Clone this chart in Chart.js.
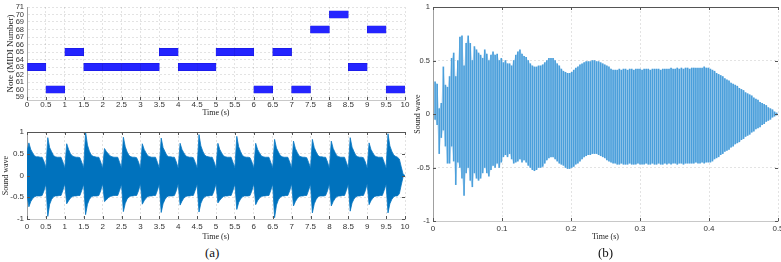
<!DOCTYPE html>
<html>
<head>
<meta charset="utf-8">
<script src="https://cdn.jsdelivr.net/npm/chart.js@4.4.1/dist/chart.umd.min.js"></script>
<style>
  body { margin: 0; background: #fff; width: 781px; height: 262px; overflow: hidden; position: relative; }
  canvas { position: absolute; }
  .tag { position: absolute; font-family: "Liberation Serif", serif; font-size: 13px; line-height: 14px; color: #111; }
</style>
</head>
<body>
<canvas id="roll" width="415" height="120" style="left:0;top:0"></canvas>
<canvas id="wave" width="415" height="125" style="left:0;top:120px"></canvas>
<canvas id="zoom" width="368" height="245" style="left:413px;top:0"></canvas>
<div class="tag" style="left:205px;top:246px">(a)</div>
<div class="tag" style="left:598px;top:246px">(b)</div>
<script>
// piano roll (a, top)
const noteOnsets = [0, 0.5, 1, 1.5, 2, 2.5, 3, 3.5, 4, 4.5, 5, 5.5, 6, 6.5, 7, 7.5, 8, 8.5, 9, 9.5];
const noteEnds = [0.5, 1, 1.5, 2, 2.5, 3, 3.5, 4, 4.5, 5, 5.5, 6, 6.5, 7, 7.5, 8, 8.5, 9, 9.5, 10];
const noteMidi = [63, 60, 65, 63, 63, 63, 63, 65, 63, 63, 65, 65, 60, 65, 60, 68, 70, 63, 68, 60];
const midiTicks = [59, 60, 61, 62, 63, 64, 65, 66, 67, 68, 69, 70, 71];
const timeTicks = [0, 0.5, 1, 1.5, 2, 2.5, 3, 3.5, 4, 4.5, 5, 5.5, 6, 6.5, 7, 7.5, 8, 8.5, 9, 9.5, 10];

// full melody waveform envelope (a, bottom), one sample every 0.05 s
const waveStep = 0.05;
const waveHi = [
  0.55, 0.75, 0.6, 0.52, 0.45, 0.43, 0.43, 0.42, 0.42, 0.32,
  0.18, 0.87, 0.64, 0.55, 0.46, 0.43, 0.42, 0.42, 0.42, 0.31,
  0.17, 0.73, 0.6, 0.5, 0.45, 0.43, 0.42, 0.42, 0.41, 0.3,
  0.18, 1.0, 0.7, 0.56, 0.47, 0.44, 0.43, 0.42, 0.42, 0.31,
  0.17, 0.62, 0.55, 0.5, 0.45, 0.43, 0.42, 0.42, 0.42, 0.3,
  0.18, 0.88, 0.66, 0.54, 0.46, 0.43, 0.42, 0.42, 0.41, 0.31,
  0.17, 0.73, 0.6, 0.52, 0.45, 0.43, 0.42, 0.42, 0.42, 0.3,
  0.18, 0.86, 0.64, 0.55, 0.46, 0.43, 0.43, 0.42, 0.42, 0.31,
  0.17, 0.74, 0.6, 0.52, 0.45, 0.43, 0.42, 0.42, 0.41, 0.3,
  0.18, 0.94, 0.68, 0.56, 0.47, 0.44, 0.43, 0.42, 0.42, 0.31,
  0.17, 0.74, 0.6, 0.52, 0.45, 0.43, 0.42, 0.42, 0.42, 0.3,
  0.18, 0.9, 0.66, 0.55, 0.46, 0.43, 0.42, 0.42, 0.41, 0.31,
  0.17, 0.74, 0.6, 0.52, 0.45, 0.43, 0.42, 0.42, 0.42, 0.3,
  0.18, 0.83, 0.63, 0.54, 0.46, 0.43, 0.42, 0.42, 0.42, 0.31,
  0.17, 0.79, 0.62, 0.53, 0.45, 0.43, 0.42, 0.42, 0.41, 0.3,
  0.18, 0.83, 0.64, 0.54, 0.46, 0.43, 0.43, 0.42, 0.42, 0.31,
  0.17, 0.79, 0.62, 0.53, 0.45, 0.43, 0.42, 0.42, 0.42, 0.3,
  0.18, 0.87, 0.65, 0.55, 0.46, 0.43, 0.42, 0.42, 0.41, 0.31,
  0.17, 0.75, 0.6, 0.52, 0.45, 0.43, 0.42, 0.42, 0.42, 0.3,
  0.18, 0.96, 0.68, 0.56, 0.47, 0.44, 0.42, 0.38, 0.2, 0.03,
  0
];
const waveLo = [
  -0.45, -0.72, -0.6, -0.53, -0.49, -0.47, -0.47, -0.47, -0.46, -0.35,
  -0.2, -0.94, -0.66, -0.55, -0.49, -0.47, -0.47, -0.46, -0.46, -0.34,
  -0.19, -0.65, -0.58, -0.52, -0.48, -0.47, -0.47, -0.46, -0.46, -0.34,
  -0.2, -0.9, -0.66, -0.55, -0.49, -0.47, -0.47, -0.47, -0.46, -0.35,
  -0.19, -0.6, -0.56, -0.51, -0.48, -0.47, -0.46, -0.46, -0.46, -0.34,
  -0.2, -0.83, -0.64, -0.54, -0.49, -0.47, -0.47, -0.46, -0.46, -0.35,
  -0.19, -0.66, -0.58, -0.52, -0.48, -0.47, -0.47, -0.46, -0.46, -0.34,
  -0.2, -0.85, -0.65, -0.55, -0.49, -0.47, -0.47, -0.47, -0.46, -0.35,
  -0.19, -0.68, -0.59, -0.52, -0.48, -0.47, -0.47, -0.46, -0.46, -0.34,
  -0.2, -0.84, -0.64, -0.54, -0.49, -0.47, -0.47, -0.46, -0.46, -0.35,
  -0.19, -0.63, -0.57, -0.52, -0.48, -0.47, -0.47, -0.46, -0.46, -0.34,
  -0.2, -0.78, -0.62, -0.54, -0.49, -0.47, -0.47, -0.47, -0.46, -0.35,
  -0.19, -0.67, -0.58, -0.52, -0.48, -0.47, -0.47, -0.46, -0.46, -0.34,
  -0.2, -0.97, -0.68, -0.56, -0.5, -0.47, -0.47, -0.46, -0.46, -0.35,
  -0.19, -0.7, -0.6, -0.53, -0.48, -0.47, -0.47, -0.46, -0.46, -0.34,
  -0.2, -0.86, -0.65, -0.55, -0.49, -0.47, -0.47, -0.47, -0.46, -0.35,
  -0.19, -0.7, -0.6, -0.53, -0.48, -0.47, -0.47, -0.46, -0.46, -0.34,
  -0.2, -0.82, -0.63, -0.54, -0.49, -0.47, -0.47, -0.46, -0.46, -0.35,
  -0.19, -0.67, -0.58, -0.52, -0.48, -0.47, -0.47, -0.46, -0.46, -0.34,
  -0.2, -0.86, -0.65, -0.55, -0.49, -0.47, -0.47, -0.42, -0.22, -0.03,
  0
];
const ampTicks = [-1, -0.5, 0, 0.5, 1];

// single note (b), one cycle peak every 0.003 s
const cycleStep = 0.003;
const cycleHi = [
  0.3, 0.28, 0.05, 0.1, 0.44, 0.27, 0.25, 0.35, 0.52, 0.57,
  0.35, 0.5, 0.72, 0.73, 0.45, 0.66, 0.73, 0.66, 0.5, 0.63,
  0.6, 0.57, 0.55, 0.52, 0.6, 0.56, 0.5, 0.55, 0.58, 0.55,
  0.56, 0.5, 0.52, 0.48, 0.5, 0.47, 0.47, 0.45, 0.5, 0.55,
  0.58, 0.6, 0.56, 0.54, 0.53, 0.5, 0.47, 0.45, 0.44, 0.44,
  0.45, 0.45, 0.46, 0.48, 0.5, 0.52, 0.52, 0.52, 0.5, 0.47,
  0.45, 0.42, 0.4, 0.39, 0.38, 0.38, 0.39, 0.41, 0.43, 0.44,
  0.46, 0.47, 0.48, 0.49, 0.49, 0.49, 0.5, 0.5, 0.49, 0.49,
  0.48, 0.47, 0.46, 0.45, 0.44, 0.42, 0.41, 0.41,
  0.41, 0.42, 0.41, 0.42, 0.42, 0.41, 0.42, 0.42, 0.41, 0.42,
  0.42, 0.42, 0.41, 0.42, 0.42, 0.42, 0.41, 0.42, 0.42, 0.42,
  0.42, 0.41, 0.42, 0.42, 0.42, 0.42, 0.43, 0.42, 0.42, 0.43,
  0.42, 0.43, 0.42, 0.43, 0.43, 0.42, 0.43, 0.43, 0.43, 0.43,
  0.43, 0.43, 0.44, 0.43, 0.43,
  0.42, 0.41, 0.4, 0.38, 0.37, 0.36, 0.35, 0.33, 0.32, 0.31,
  0.29, 0.28, 0.27, 0.26, 0.24, 0.23, 0.22, 0.2, 0.19, 0.18,
  0.17, 0.15, 0.14, 0.13, 0.11, 0.1, 0.09, 0.08, 0.06, 0.05,
  0.04, 0.02, 0.01
];
const cycleLo = [
  -0.05, -0.1, -0.37, -0.22, -0.15, -0.3, -0.46, -0.46, -0.3, -0.44,
  -0.66, -0.45, -0.5, -0.6, -0.76, -0.55, -0.5, -0.62, -0.68, -0.55,
  -0.6, -0.62, -0.6, -0.55, -0.5, -0.55, -0.58, -0.52, -0.48, -0.5,
  -0.46, -0.5, -0.45, -0.4, -0.38, -0.4, -0.37, -0.42, -0.46, -0.45,
  -0.44, -0.42, -0.45, -0.43, -0.45, -0.48, -0.5, -0.52, -0.53, -0.52,
  -0.5, -0.5, -0.49, -0.46, -0.43, -0.41, -0.4, -0.4, -0.42, -0.44,
  -0.46, -0.47, -0.48, -0.5, -0.51, -0.51, -0.5, -0.49, -0.47, -0.46,
  -0.44, -0.42, -0.4, -0.39, -0.38, -0.38, -0.37, -0.37, -0.37, -0.38,
  -0.39, -0.4, -0.41, -0.43, -0.44, -0.45, -0.46, -0.46,
  -0.47, -0.47, -0.46, -0.47, -0.47, -0.47, -0.46, -0.47, -0.47, -0.47,
  -0.46, -0.47, -0.47, -0.47, -0.46, -0.47, -0.47, -0.46, -0.47, -0.47,
  -0.46, -0.47, -0.47, -0.46, -0.47, -0.46, -0.47, -0.46, -0.46, -0.47,
  -0.46, -0.46, -0.47, -0.46, -0.46, -0.46, -0.46, -0.46, -0.45, -0.46,
  -0.46, -0.45, -0.46, -0.45, -0.45,
  -0.45, -0.44, -0.42, -0.41, -0.4, -0.38, -0.37, -0.35, -0.34, -0.33,
  -0.31, -0.3, -0.28, -0.27, -0.26, -0.24, -0.23, -0.21, -0.2, -0.19,
  -0.17, -0.16, -0.14, -0.13, -0.12, -0.1, -0.09, -0.07, -0.06, -0.05,
  -0.03, -0.02, -0.01
];
const cycleTimeTicks = [0, 0.1, 0.2, 0.3, 0.4, 0.5];

const sansFamily = "'Liberation Sans', Arial, sans-serif";
const serifFamily = "'Liberation Serif', 'Times New Roman', serif";
const labelFont = { family: serifFamily, size: 8 };
const gridColor = 'rgba(0,0,0,0.11)';

// MATLAB style: ticks pointing into the box, optional top border
const inwardTicks = {
  id: 'inwardTicks',
  afterDatasetsDraw(chart, args, opts) {
    const { ctx, chartArea: a, scales: { x, y } } = chart;
    ctx.save();
    ctx.strokeStyle = '#555';
    ctx.lineWidth = 1;
    ctx.beginPath();
    x.ticks.forEach((t) => {
      const px = Math.round(x.getPixelForValue(t.value)) + 0.5;
      ctx.moveTo(px, a.bottom);
      ctx.lineTo(px, a.bottom - 3);
      if (opts.box) {
        ctx.moveTo(px, a.top);
        ctx.lineTo(px, a.top + 3);
      }
    });
    if (opts.box) {
      y.ticks.forEach((t) => {
        const py = Math.round(y.getPixelForValue(t.value)) + 0.5;
        ctx.moveTo(a.left, py);
        ctx.lineTo(a.left + 3, py);
        ctx.moveTo(a.right, py);
        ctx.lineTo(a.right - 3, py);
      });
      ctx.moveTo(a.left, a.top + 0.5);
      ctx.lineTo(a.right, a.top + 0.5);
    }
    ctx.stroke();
    ctx.restore();
  },
};

function fixedTicks(values) {
  return (scale) => {
    scale.ticks = values.map((v) => ({ value: v }));
  };
}

const plainLabel = (v) => String(v);

function xAxis(min, max, ticks, height, tickPad, titlePad) {
  return {
    type: 'linear',
    min: min,
    max: max,
    offset: false,
    afterBuildTicks: fixedTicks(ticks),
    afterFit: (s) => {
      s.height = height;
      s.paddingLeft = 0;
      s.paddingRight = 0;
    },
    ticks: { font: { family: sansFamily, size: 8 }, color: '#333', padding: tickPad, autoSkip: false, maxRotation: 0, callback: plainLabel },
    grid: { color: gridColor, drawTicks: false, offset: false },
    border: { color: '#c8c8c8', dash: [2, 2] },
    title: { display: true, text: 'Time (s)', font: labelFont, color: '#222', padding: { top: 0, bottom: titlePad } },
  };
}

function yAxis(min, max, ticks, width, title, titleFont, titlePad, fontSize) {
  return {
    type: 'linear',
    min: min,
    max: max,
    offset: false,
    afterBuildTicks: fixedTicks(ticks),
    afterFit: (s) => {
      s.width = width;
      s.paddingTop = 0;
      s.paddingBottom = 0;
    },
    ticks: { font: { family: sansFamily, size: fontSize }, color: '#333', padding: 3, autoSkip: false, callback: plainLabel },
    grid: { color: gridColor, drawTicks: false, offset: false },
    border: { color: '#a0a0a0', dash: [2, 2] },
    title: { display: true, text: title, font: titleFont, color: '#222', padding: { top: titlePad, bottom: 0 } },
  };
}

const common = {
  animation: false,
  responsive: false,
  devicePixelRatio: 1,
  events: [],
};

new Chart(document.getElementById('roll'), {
  type: 'bar',
  data: {
    datasets: [{
      data: noteMidi.map((m, i) => ({ y: m, x: [noteOnsets[i], noteEnds[i]] })),
      backgroundColor: '#2424ff',
      borderColor: '#1414d8',
      borderWidth: 0.5,
      borderSkipped: false,
      barThickness: 7.3,
    }],
  },
  options: {
    ...common,
    indexAxis: 'y',
    layout: { padding: { top: 7, right: 10, left: 0, bottom: 0 } },
    plugins: { legend: { display: false }, tooltip: { enabled: false }, inwardTicks: { box: false } },
    scales: {
      x: xAxis(0, 10, timeTicks, 20, 0, 2.2),
      y: yAxis(58.6, 71, midiTicks, 27, 'Note (MIDI Number)', { family: serifFamily, size: 9 }, 5, 7.5),
    },
  },
  plugins: [inwardTicks],
});

new Chart(document.getElementById('wave'), {
  type: 'line',
  data: {
    datasets: [
      {
        data: waveHi.map((v, i) => ({ x: i * waveStep, y: v })),
        fill: '+1',
        backgroundColor: '#0072bd',
        borderColor: '#0a78c4',
        borderWidth: 0.8,
        pointRadius: 0,
        tension: 0,
      },
      {
        data: waveLo.map((v, i) => ({ x: i * waveStep, y: v })),
        fill: false,
        borderColor: '#0a78c4',
        borderWidth: 0.8,
        pointRadius: 0,
        tension: 0,
      },
    ],
  },
  options: {
    ...common,
    layout: { padding: { top: 12, right: 10, left: 0, bottom: 0 } },
    plugins: { legend: { display: false }, tooltip: { enabled: false }, inwardTicks: { box: true } },
    scales: {
      x: xAxis(0, 10, timeTicks, 26, 3.2, 3.2),
      y: yAxis(-1, 1, ampTicks, 27, 'Sound wave', labelFont, 1, 8),
    },
  },
  plugins: [inwardTicks],
});

const cyclePoints = (vals) => vals.map((v, i) => ({ x: (i + 1) * cycleStep, y: v }));

new Chart(document.getElementById('zoom'), {
  type: 'bar',
  data: {
    datasets: [
      {
        type: 'line',
        data: cyclePoints(cycleHi),
        fill: '+1',
        backgroundColor: '#cfe4f5',
        borderColor: 'rgba(0,0,0,0)',
        pointRadius: 0,
        tension: 0,
        order: 2,
      },
      {
        type: 'line',
        data: cyclePoints(cycleLo),
        fill: false,
        borderColor: 'rgba(0,0,0,0)',
        pointRadius: 0,
        tension: 0,
        order: 3,
      },
      {
        type: 'bar',
        data: cycleHi.map((v, i) => ({ x: (i + 1) * cycleStep, y: [cycleLo[i], v] })),
        backgroundColor: '#4a9fdb',
        barThickness: 1,
        order: 1,
      },
    ],
  },
  options: {
    ...common,
    layout: { padding: { top: 7, right: 3, left: 0, bottom: 0 } },
    plugins: { legend: { display: false }, tooltip: { enabled: false }, inwardTicks: { box: true } },
    scales: {
      x: xAxis(0, 0.5, cycleTimeTicks, 24, 3, 3.2),
      y: yAxis(-1, 1, ampTicks, 20, 'Sound wave', labelFont, 0, 7.5),
    },
  },
  plugins: [inwardTicks],
});
</script>
</body>
</html>
